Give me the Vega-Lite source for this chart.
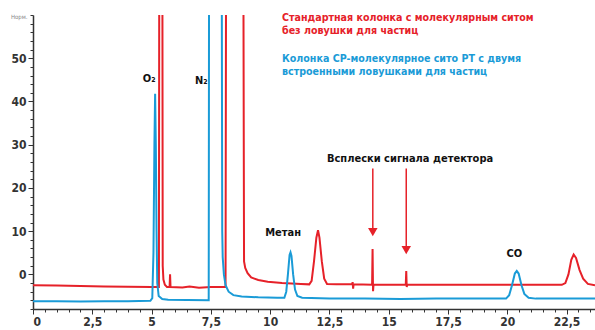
{
  "$schema": "https://vega.github.io/schema/vega-lite/v6.json",
  "width": 562,
  "height": 294,
  "autosize": {"type": "none"},
  "padding": {"left": 33, "top": 15, "right": 0, "bottom": 21},
  "background": "white",
  "config": {"view": {"stroke": null}, "font": "DejaVu Sans Condensed"},
  "datasets": {
    "curves": [
      {"s":"std","t":0,"v":-2.5},{"s":"std","t":1,"v":-2.55},{"s":"std","t":2,"v":-2.7},{"s":"std","t":3,"v":-2.8},{"s":"std","t":4,"v":-2.85},{"s":"std","t":5.0,"v":-2.9},{"s":"std","t":5.31,"v":-2.9},{"s":"std","t":5.33,"v":100},{"s":"std","t":5.45,"v":100},{"s":"std","t":5.47,"v":2},{"s":"std","t":5.5,"v":-1.2},{"s":"std","t":5.56,"v":-2.4},{"s":"std","t":5.65,"v":-2.9},{"s":"std","t":5.76,"v":-2.9},{"s":"std","t":5.78,"v":0},{"s":"std","t":5.8,"v":-2.9},{"s":"std","t":6.3,"v":-3.0},{"s":"std","t":6.6,"v":-2.8},{"s":"std","t":7,"v":-3.1},{"s":"std","t":7.5,"v":-2.9},{"s":"std","t":8.12,"v":-2.9},{"s":"std","t":8.15,"v":100},{"s":"std","t":8.86,"v":100},{"s":"std","t":8.9,"v":3},{"s":"std","t":8.95,"v":1.5},{"s":"std","t":9.05,"v":0.3},{"s":"std","t":9.2,"v":-0.7},{"s":"std","t":9.5,"v":-1.3},{"s":"std","t":9.9,"v":-1.7},{"s":"std","t":10.5,"v":-2.0},{"s":"std","t":11.3,"v":-2.2},{"s":"std","t":11.65,"v":-2.3},{"s":"std","t":11.75,"v":-1.5},{"s":"std","t":11.85,"v":3},{"s":"std","t":11.95,"v":8.5},{"s":"std","t":12.02,"v":10.2},{"s":"std","t":12.08,"v":8.5},{"s":"std","t":12.18,"v":3},{"s":"std","t":12.28,"v":-1},{"s":"std","t":12.4,"v":-2.2},{"s":"std","t":12.8,"v":-2.3},{"s":"std","t":13.45,"v":-2.3},{"s":"std","t":13.48,"v":-1.8},{"s":"std","t":13.5,"v":-3.3},{"s":"std","t":13.52,"v":-2.3},{"s":"std","t":14.3,"v":-2.4},{"s":"std","t":14.32,"v":5.9},{"s":"std","t":14.34,"v":-3.9},{"s":"std","t":14.36,"v":-2.4},{"s":"std","t":15.72,"v":-2.4},{"s":"std","t":15.74,"v":0.8},{"s":"std","t":15.76,"v":-2.9},{"s":"std","t":15.78,"v":-2.4},{"s":"std","t":17,"v":-2.4},{"s":"std","t":19,"v":-2.4},{"s":"std","t":21,"v":-2.4},{"s":"std","t":22.3,"v":-2.4},{"s":"std","t":22.45,"v":-2.0},{"s":"std","t":22.58,"v":0},{"s":"std","t":22.7,"v":3.4},{"s":"std","t":22.8,"v":4.6},{"s":"std","t":22.9,"v":3.8},{"s":"std","t":23.05,"v":1},{"s":"std","t":23.2,"v":-1},{"s":"std","t":23.4,"v":-2.2},{"s":"std","t":23.7,"v":-2.5},
      {"s":"cp","t":0,"v":-6.2},{"s":"cp","t":1,"v":-6.2},{"s":"cp","t":2,"v":-6.25},{"s":"cp","t":3,"v":-6.2},{"s":"cp","t":4,"v":-6.2},{"s":"cp","t":4.95,"v":-6.1},{"s":"cp","t":5.03,"v":-5.5},{"s":"cp","t":5.08,"v":5},{"s":"cp","t":5.12,"v":30},{"s":"cp","t":5.15,"v":41.8},{"s":"cp","t":5.18,"v":30},{"s":"cp","t":5.21,"v":10},{"s":"cp","t":5.24,"v":-2},{"s":"cp","t":5.3,"v":-5},{"s":"cp","t":5.45,"v":-5.7},{"s":"cp","t":5.7,"v":-5.85},{"s":"cp","t":6.5,"v":-5.9},{"s":"cp","t":7.41,"v":-6.0},{"s":"cp","t":7.43,"v":100},{"s":"cp","t":7.95,"v":100},{"s":"cp","t":7.98,"v":10},{"s":"cp","t":8.0,"v":4},{"s":"cp","t":8.05,"v":0},{"s":"cp","t":8.12,"v":-2.5},{"s":"cp","t":8.25,"v":-4},{"s":"cp","t":8.45,"v":-4.8},{"s":"cp","t":8.8,"v":-5.1},{"s":"cp","t":9.5,"v":-5.3},{"s":"cp","t":10.3,"v":-5.4},{"s":"cp","t":10.6,"v":-5.4},{"s":"cp","t":10.68,"v":-4},{"s":"cp","t":10.75,"v":0},{"s":"cp","t":10.82,"v":4.5},{"s":"cp","t":10.86,"v":5.1},{"s":"cp","t":10.9,"v":4.3},{"s":"cp","t":10.97,"v":0},{"s":"cp","t":11.05,"v":-3.5},{"s":"cp","t":11.15,"v":-5},{"s":"cp","t":11.35,"v":-5.4},{"s":"cp","t":12.5,"v":-5.6},{"s":"cp","t":14,"v":-5.6},{"s":"cp","t":15.5,"v":-5.7},{"s":"cp","t":17,"v":-5.6},{"s":"cp","t":18.5,"v":-5.6},{"s":"cp","t":19.95,"v":-5.6},{"s":"cp","t":20.08,"v":-4.8},{"s":"cp","t":20.2,"v":-2.5},{"s":"cp","t":20.32,"v":0.2},{"s":"cp","t":20.4,"v":0.8},{"s":"cp","t":20.48,"v":0.2},{"s":"cp","t":20.6,"v":-2.5},{"s":"cp","t":20.72,"v":-4.5},{"s":"cp","t":20.9,"v":-5.4},{"s":"cp","t":21.2,"v":-5.6},{"s":"cp","t":22.5,"v":-5.6},{"s":"cp","t":23.7,"v":-5.6}
    ],
    "minor": [
      {"t":0.5,"v":-8},{"t":1,"v":-8}
    ],
    "arrows": [
      {"t":14.33,"top":24.5,"bottom":10.5},
      {"t":15.74,"top":24.5,"bottom":6.5}
    ],
    "heads": [
      {"t":14.33,"v":9.8},
      {"t":15.74,"v":5.6}
    ],
    "labels": [
      {"t":4.9,"v":45.3,"text":"O₂"},
      {"t":7.1,"v":44.8,"text":"N₂"},
      {"t":10.55,"v":9.5,"text":"Метан"},
      {"t":15.9,"v":26.8,"text":"Всплески сигнала детектора"},
      {"t":20.3,"v":4.8,"text":"CO"}
    ],
    "legend": [
      {"t":10.5,"v":59.3,"text":"Стандартная колонка с молекулярным ситом","c":"std"},
      {"t":10.5,"v":56.3,"text":"без ловушки для частиц","c":"std"},
      {"t":10.5,"v":49.9,"text":"Колонка CP-молекулярное сито PT с двумя","c":"cp"},
      {"t":10.5,"v":46.9,"text":"встроенными ловушками для частиц","c":"cp"}
    ]
  },
  "resolve": {"axis": {"x": "independent", "y": "independent"}},
  "layer": [
    {
      "data": {"name": "curves"},
      "mark": {"type": "line", "clip": true, "interpolate": "linear", "strokeWidth": 2},
      "encoding": {
        "x": {"field": "t", "type": "quantitative", "scale": {"domain": [0, 23.7], "nice": false, "zero": false},
          "axis": {"orient": "bottom", "title": null, "values": [0,2.5,5,7.5,10,12.5,15,17.5,20,22.5], "grid": false, "tickSize": 5, "tickColor": "#333", "domainColor": "#333", "domainWidth": 1.5, "labelExpr": "replace(format(datum.value, '~g'), '.', ',')", "labelFontSize": 12, "labelFontWeight": "bold", "labelFont": "DejaVu Sans Condensed", "labelColor": "#333", "labelPadding": 2}},
        "y": {"field": "v", "type": "quantitative", "scale": {"domain": [-8, 60], "nice": false, "zero": false},
          "axis": {"orient": "left", "title": "Норм.", "titleAngle": 0, "titleX": -6, "titleY": 4, "titleAlign": "right", "titleFontSize": 6, "titleFontWeight": "normal", "titleColor": "#888", "values": [0,10,20,30,40,50], "grid": false, "tickSize": 5, "tickColor": "#333", "domainColor": "#333", "domainWidth": 1.5, "labelFontSize": 12, "labelFontWeight": "bold", "labelFont": "DejaVu Sans Condensed", "labelColor": "#333", "labelPadding": 2}},
        "color": {"field": "s", "type": "nominal", "scale": {"domain": ["std", "cp"], "range": ["#e62129", "#1a9bd7"]}, "legend": null},
        "order": {"field": "t", "type": "quantitative"}
      }
    },
    {
      "data": {"name": "minor"},
      "mark": {"type": "point", "opacity": 0},
      "encoding": {
        "x": {"field": "t", "type": "quantitative",
          "axis": {"orient": "bottom", "title": null, "values": [0.5,1,1.5,2,3,3.5,4,4.5,5.5,6,6.5,7,8,8.5,9,9.5,10.5,11,11.5,12,13,13.5,14,14.5,15.5,16,16.5,17,18,18.5,19,19.5,20.5,21,21.5,22,23,23.5], "labels": false, "domain": false, "grid": false, "tickSize": 3, "tickColor": "#333"}},
        "y": {"field": "v", "type": "quantitative",
          "axis": {"orient": "left", "title": null, "values": [-8,-6,-4,-2,2,4,6,8,12,14,16,18,22,24,26,28,32,34,36,38,42,44,46,48,52,54,56,58,60], "labels": false, "domain": false, "grid": false, "tickSize": 3, "tickColor": "#333"}}
      }
    },
    {
      "data": {"name": "arrows"},
      "mark": {"type": "rule", "color": "#e62129", "strokeWidth": 1.5},
      "encoding": {
        "x": {"field": "t", "type": "quantitative", "axis": null},
        "y": {"field": "top", "type": "quantitative", "axis": null},
        "y2": {"field": "bottom"}
      }
    },
    {
      "data": {"name": "heads"},
      "mark": {"type": "point", "shape": "triangle-down", "filled": true, "color": "#e62129", "size": 90, "opacity": 1},
      "encoding": {
        "x": {"field": "t", "type": "quantitative", "axis": null},
        "y": {"field": "v", "type": "quantitative", "axis": null}
      }
    },
    {
      "data": {"name": "labels"},
      "mark": {"type": "text", "font": "DejaVu Sans Condensed", "fontWeight": "bold", "fontSize": 11, "color": "#111", "baseline": "middle", "align": "center"},
      "encoding": {
        "x": {"field": "t", "type": "quantitative", "axis": null},
        "y": {"field": "v", "type": "quantitative", "axis": null},
        "text": {"field": "text"}
      }
    },
    {
      "data": {"name": "legend"},
      "mark": {"type": "text", "font": "DejaVu Sans Condensed", "fontWeight": "bold", "fontSize": 10.6, "baseline": "middle", "align": "left"},
      "encoding": {
        "x": {"field": "t", "type": "quantitative", "axis": null},
        "y": {"field": "v", "type": "quantitative", "axis": null},
        "text": {"field": "text"},
        "color": {"field": "c", "type": "nominal", "scale": {"domain": ["std", "cp"], "range": ["#e62129", "#1a9bd7"]}, "legend": null}
      }
    }
  ]
}
